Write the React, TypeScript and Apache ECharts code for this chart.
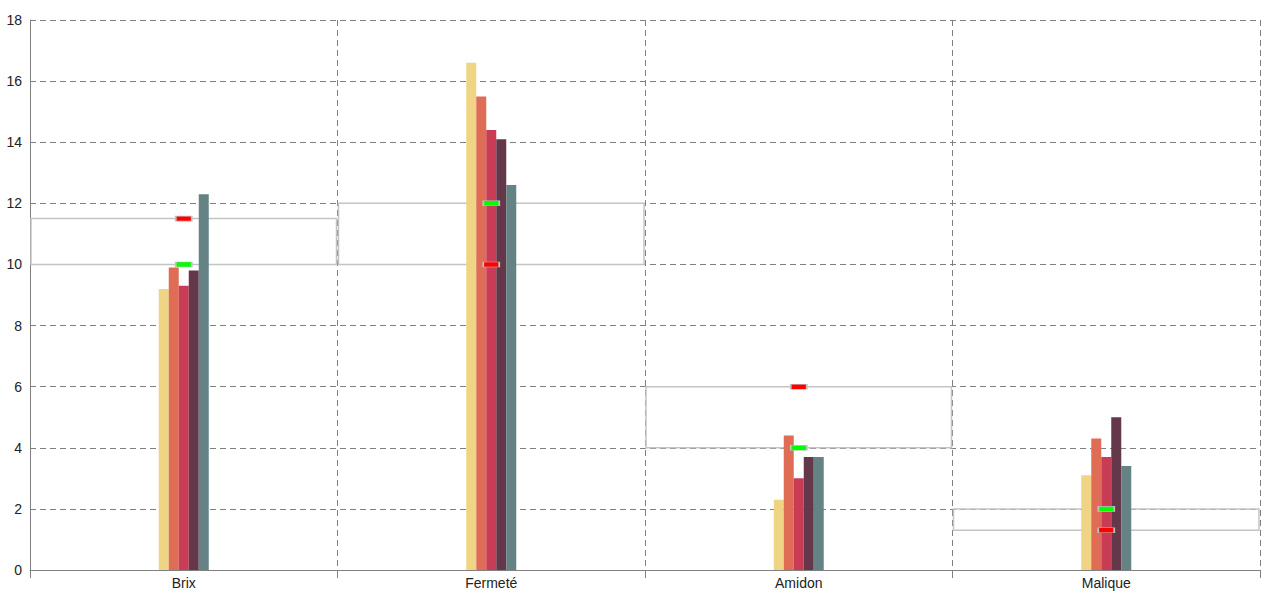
import React, { useEffect, useRef } from "react";
import * as echarts from "echarts";

const categories = ["Brix", "Fermeté", "Amidon", "Malique"];
const seriesA = [9.2, 16.6, 2.3, 3.1];
const seriesB = [9.9, 15.5, 4.4, 4.3];
const seriesC = [9.3, 14.4, 3.0, 3.7];
const seriesD = [9.8, 14.1, 3.7, 5.0];
const seriesE = [12.3, 12.6, 3.7, 3.4];
const rangeLow = [10, 10, 4, 1.3];
const rangeHigh = [11.5, 12, 6, 2];
const greenMarks = [10, 12, 4, 2];
const redMarks = [11.5, 10, 6, 1.3];
const yTicks = [0, 2, 4, 6, 8, 10, 12, 14, 16, 18];

const barColors = ["#eed484", "#df6c55", "#c83c56", "#64374b", "#658385"];
const barData = [seriesA, seriesB, seriesC, seriesD, seriesE];

export default function App() {
  const ref = useRef<HTMLDivElement>(null);
  useEffect(() => {
    if (!ref.current) return;
    const chart = echarts.init(ref.current, undefined, { renderer: "svg" });
    const rangeData = categories.map((_, i) => [i, rangeLow[i], rangeHigh[i]]);
    chart.setOption({
      animation: false,
      textStyle: { fontFamily: "Arial, 'Liberation Sans', sans-serif" },
      grid: { left: 30, right: 20, top: 20, bottom: 30, containLabel: false },
      xAxis: {
        type: "category",
        data: categories,
        boundaryGap: true,
        axisLine: { show: true, lineStyle: { color: "#808080", width: 1 } },
        axisTick: { show: true, length: 8, lineStyle: { color: "#808080" } },
        axisLabel: { color: "#222", fontSize: 14, margin: 6 },
        splitLine: { show: true, lineStyle: { color: "#808080", type: [6, 4], width: 1 } },
      },
      yAxis: {
        type: "value",
        min: yTicks[0],
        max: yTicks[yTicks.length - 1],
        interval: 2,
        axisLine: { show: true, lineStyle: { color: "#808080", width: 1 } },
        axisTick: { show: false },
        axisLabel: { color: "#222", fontSize: 14, margin: 8 },
        splitLine: { show: true, lineStyle: { color: "#808080", type: [6, 4], width: 1 } },
      },
      series: [
        {
          type: "custom",
          z: 1,
          data: rangeData,
          encode: { x: 0, y: [1, 2] },
          renderItem: (params: any, api: any) => {
            const x = api.value(0);
            const lo = api.coord([x, api.value(1)]);
            const hi = api.coord([x, api.value(2)]);
            const w = api.size([1, 0])[0];
            return {
              type: "rect",
              shape: { x: lo[0] - w / 2 + 1, y: hi[1], width: w - 2, height: lo[1] - hi[1] },
              style: { fill: "none", stroke: "#c4c4c4", lineWidth: 1.5 },
            };
          },
        },
        ...barData.map((d, i) => ({
          type: "bar",
          z: 2,
          data: d,
          barWidth: 10,
          barGap: "0%",
          itemStyle: { color: barColors[i] },
        })),
        {
          type: "scatter",
          z: 5,
          data: greenMarks,
          symbol: "rect",
          symbolSize: [16, 5],
          itemStyle: { color: "#00ff00", borderColor: "#c0c0c0", borderWidth: 1, opacity: 1 },
        },
        {
          type: "scatter",
          z: 5,
          data: redMarks,
          symbol: "rect",
          symbolSize: [16, 5],
          itemStyle: { color: "#ff0000", borderColor: "#c0c0c0", borderWidth: 1, opacity: 1 },
        },
      ],
    });
    return () => chart.dispose();
  }, []);
  return (
    <div
      ref={ref}
      style={{ position: "fixed", left: 0, top: 0, width: 1280, height: 600, background: "#fff" }}
    />
  );
}
